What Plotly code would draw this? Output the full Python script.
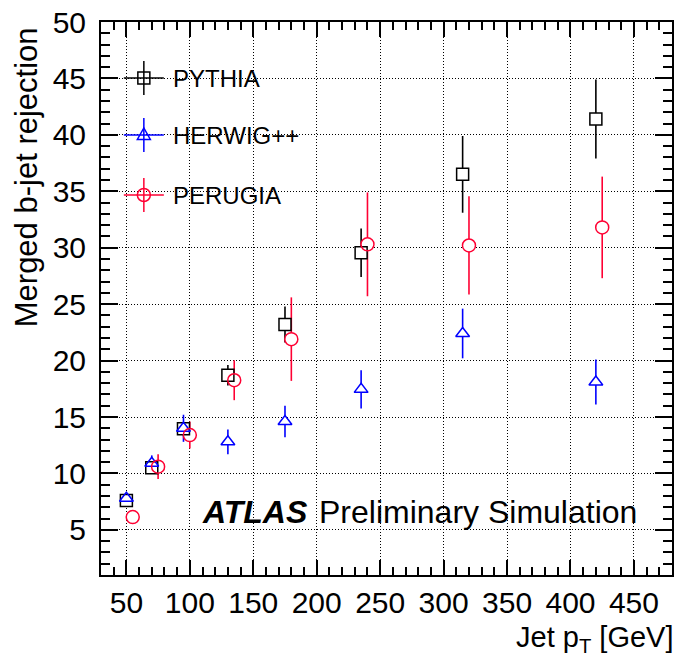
import plotly.graph_objects as go

# Merged b-jet rejection versus jet pT for three generator tunes
pythia_pt = [50, 70, 95, 130, 175, 235, 315, 420]
pythia_rej = [7.6, 10.5, 13.95, 18.7, 23.2, 29.55, 36.5, 41.4]
pythia_err = [0.3, 0.4, 0.6, 0.9, 1.6, 2.15, 3.4, 3.5]

herwig_pt = [50, 70, 95, 130, 175, 235, 315, 420]
herwig_rej = [7.8, 10.9, 14.0, 12.8, 14.6, 17.45, 22.4, 18.1]
herwig_err = [0.4, 0.7, 1.2, 1.1, 1.4, 1.7, 2.2, 2.0]

perugia_pt = [55, 75, 100, 135, 180, 240, 320, 425]
perugia_rej = [6.13, 10.6, 13.4, 18.26, 21.9, 30.3, 30.2, 31.8]
perugia_err = [0.4, 1.1, 1.2, 1.77, 3.7, 4.6, 4.35, 4.5]

series_names = ["PYTHIA", "HERWIG++", "PERUGIA"]
series_colors = ["#000000", "#0000ff", "#ff0033"]
series_symbols = ["square", "triangle-up", "circle"]
series_sizes = [12, 12, 13]

series = [
    (pythia_pt, pythia_rej, pythia_err),
    (herwig_pt, herwig_rej, herwig_err),
    (perugia_pt, perugia_rej, perugia_err),
]

FONT = "Liberation Sans, Arial, Helvetica, sans-serif"

fig = go.Figure()

# 1) vertical error bars
for (x, y, e), col in zip(series, series_colors):
    fig.add_trace(go.Scatter(
        x=x, y=y, mode="markers",
        marker=dict(size=2, color=col, opacity=0),
        error_y=dict(type="data", array=e, visible=True, color=col,
                     thickness=1.6, width=0),
        showlegend=False, hoverinfo="skip",
    ))

# 2) white masks so bars do not run through the markers
for (x, y, e), sym, sz in zip(series, series_symbols, series_sizes):
    fig.add_trace(go.Scatter(
        x=x, y=y, mode="markers",
        marker=dict(symbol=sym, size=sz, color="white", line=dict(width=0)),
        showlegend=False, hoverinfo="skip",
    ))

# 3) open marker outlines
for (x, y, e), name, col, sym, sz in zip(series, series_names, series_colors,
                                         series_symbols, series_sizes):
    fig.add_trace(go.Scatter(
        x=x, y=y, mode="markers", name=name,
        marker=dict(symbol=sym + "-open", size=sz, color=col,
                    line=dict(width=1.5, color=col)),
        showlegend=False,
    ))

# plot area in pixels: x 101..674, y 22..575
PL, PR, PT, PB = 101, 674, 22, 575
def px(xp):
    return (xp - PL) / (PR - PL)
def py(yp):
    return (PB - yp) / (PB - PT)

shapes = []
annotations = []

# hand-built legend (cross-shaped glyphs as in ROOT)
legend_rows = [78, 135, 195]
gx = px(144)
for name, col, sym, yrow in zip(series_names, series_colors, series_symbols, legend_rows):
    gy = py(yrow)
    shapes.append(dict(type="line", xref="paper", yref="paper",
                       xsizemode="pixel", xanchor=gx, x0=-20, x1=20,
                       y0=gy, y1=gy, line=dict(color=col, width=1.5)))
    shapes.append(dict(type="line", xref="paper", yref="paper",
                       ysizemode="pixel", yanchor=gy, y0=-17, y1=17,
                       x0=gx, x1=gx, line=dict(color=col, width=1.5)))
    common = dict(xref="paper", yref="paper", xsizemode="pixel", ysizemode="pixel",
                  xanchor=gx, yanchor=gy, line=dict(color=col, width=1.5),
                  fillcolor="rgba(0,0,0,0)")
    if sym == "square":
        shapes.append(dict(type="rect", x0=-6, x1=6, y0=-6, y1=6, **common))
    elif sym == "circle":
        shapes.append(dict(type="circle", x0=-6.5, x1=6.5, y0=-6.5, y1=6.5, **common))
    else:
        shapes.append(dict(type="path", path="M-6.5,-4.5 L6.5,-4.5 L0,7 Z", **common))
    annotations.append(dict(text=name, x=px(171), y=gy, xref="paper", yref="paper",
                            xanchor="left", yanchor="middle", showarrow=False,
                            font=dict(family=FONT, size=24, color="black")))

# ATLAS label
annotations.append(dict(text="<b><i>ATLAS</i></b>", x=px(200), y=py(512),
                        xref="paper", yref="paper", xanchor="left", yanchor="middle",
                        showarrow=False, font=dict(family=FONT, size=32, color="black")))
annotations.append(dict(text="Preliminary Simulation", x=px(318), y=py(512),
                        xref="paper", yref="paper", xanchor="left", yanchor="middle",
                        showarrow=False, font=dict(family=FONT, size=32, color="black")))

# axis titles
annotations.append(dict(text="Merged b-jet rejection", textangle=-90,
                        x=px(26), y=py(25), xref="paper", yref="paper",
                        xanchor="center", yanchor="top", showarrow=False,
                        font=dict(family=FONT, size=31, color="black")))
annotations.append(dict(text="Jet p<sub>T</sub> [GeV]", x=px(677), y=py(639),
                        xref="paper", yref="paper", xanchor="right", yanchor="middle",
                        showarrow=False, font=dict(family=FONT, size=29, color="black")))

axis_common = dict(
    showline=True, linecolor="black", linewidth=2, mirror="allticks",
    ticks="inside", tickcolor="black", tickwidth=1.5,
    showgrid=True, gridcolor="black", gridwidth=1, griddash="1px,2px",
    zeroline=False,
    tickfont=dict(family=FONT, size=30, color="black"),
)

fig.update_xaxes(range=[30, 480], tick0=50, dtick=50, ticklen=15,
                 ticklabelstandoff=0,
                 minor=dict(dtick=10, tick0=0, ticklen=8, tickcolor="black",
                            tickwidth=1.5, ticks="inside", showgrid=False),
                 **axis_common)
fig.update_yaxes(range=[1, 50], tick0=0, dtick=5, ticklen=17,
                 ticklabelstandoff=7,
                 minor=dict(dtick=1, tick0=0, ticklen=9, tickcolor="black",
                            tickwidth=1.5, ticks="inside", showgrid=False),
                 **axis_common)

fig.update_layout(
    width=679, height=662,
    margin=dict(l=PL, r=679 - PR, t=PT, b=662 - PB),
    paper_bgcolor="white", plot_bgcolor="white",
    shapes=shapes, annotations=annotations,
    showlegend=False,
    font=dict(family=FONT, color="black"),
)

fig.write_html("out.html")
